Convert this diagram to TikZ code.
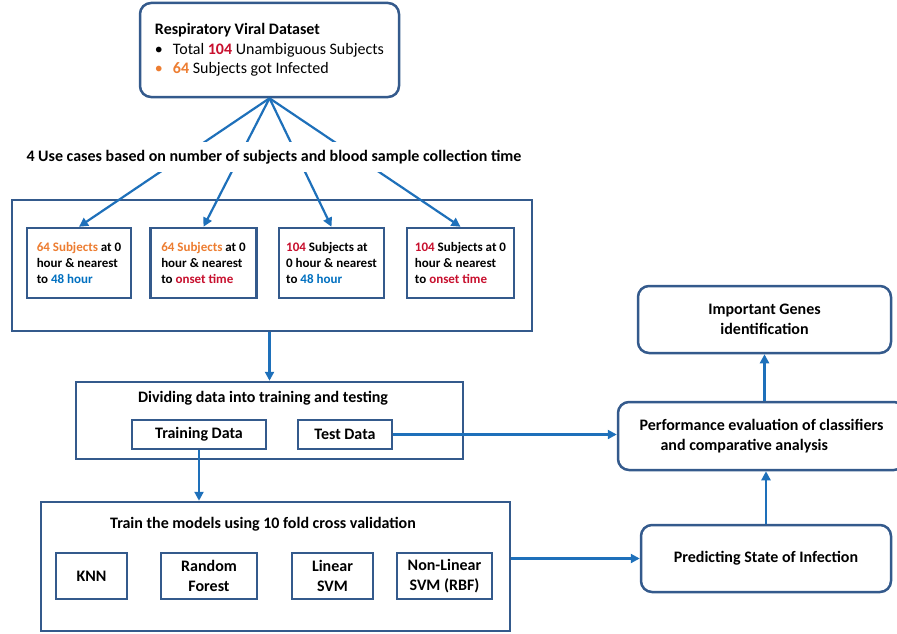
\documentclass[tikz,border=0pt]{standalone}
\usepackage{fontspec}
\setmainfont{Carlito}
\usepackage{tikz}
\usetikzlibrary{arrows.meta}
\definecolor{boxblue}{RGB}{52,90,140}
\definecolor{lineblue}{RGB}{30,112,186}
\definecolor{corange}{RGB}{237,125,49}
\definecolor{cred}{RGB}{200,16,46}
\definecolor{cblue}{RGB}{0,112,192}
\tikzset{
  box/.style={draw=boxblue,line width=2.5pt,fill=white,inner sep=0pt},
  rbox/.style={box,rounded corners=11pt},
  arr/.style={draw=lineblue,line width=2.2pt,-{Triangle[length=9pt,width=9pt]}},
  lbl/.style={font=\fontsize{16}{19.5}\selectfont\bfseries,align=center},
  small/.style={font=\fontsize{13}{16}\selectfont\bfseries,align=left}
}

\begin{document}
\begin{tikzpicture}[x=1pt,y=-1pt]
                      \useasboundingbox (0,0) rectangle (897,634);
                      % dataset and the four use cases
                      \node[rbox,minimum width=259pt,minimum height=94pt,align=left,font=\fontsize{16}{19.5}\selectfont] (data) at (269.5,50)
                        {\textbf{Respiratory Viral Dataset}\\\textbullet\hspace{10pt}Total \textbf{\color{cred}104} Unambiguous Subjects\\{\color{corange}\textbullet\hspace{10pt}\textbf{64}} Subjects got Infected};
                      \node[box,minimum width=520pt,minimum height=131pt] (cases) at (272,265.5) {};
                      \node[box,small,minimum width=104pt,minimum height=70pt] (c1) at (79,263) {{\color{corange}64 Subjects} at 0\\hour \& nearest\\to {\color{cblue}48 hour}};
                      \node[box,small,minimum width=106pt,minimum height=70pt] (c2) at (203.5,263) {{\color{corange}64 Subjects} at 0\\hour \& nearest\\to {\color{cred}onset time}};
                      \node[box,small,minimum width=105pt,minimum height=70pt] (c3) at (331.5,263) {{\color{cred}104} Subjects at\\0 hour \& nearest\\to {\color{cblue}48 hour}};
                      \node[box,small,minimum width=107pt,minimum height=70pt] (c4) at (460.5,263) {{\color{cred}104} Subjects at 0\\hour \& nearest\\to {\color{cred}onset time}};
                      \foreach \c in {c1,c2,c3,c4}
                        \draw[arr] (data.south) -- (\c.north);
                      \node[lbl,fill=white,minimum height=30pt] (uc) at (274,157) {4 Use cases based on number of subjects and blood sample collection time};
                      % splitting the data
                      \node[box,minimum width=387pt,minimum height=77pt] (split) at (269.5,420.5) {};
                      \node[lbl] (splitlbl) at (263,398) {Dividing data into training and testing};
                      \node[box,lbl,minimum width=134pt,minimum height=29pt] (tr) at (199,434.5) {Training Data};
                      \node[box,lbl,minimum width=94pt,minimum height=29pt] (te) at (345,434.5) {Test Data};
                      \draw[arr] (split.north |- cases.south) -- (split.north);
                      % models
                      \node[box,minimum width=469pt,minimum height=129pt] (train) at (275.5,566.5) {};
                      \node[lbl] (trainlbl) at (263,524) {Train the models using 10 fold cross validation};
                      \node[box,lbl,minimum width=71pt,minimum height=46pt] (knn) at (91.5,576) {KNN};
                      \node[box,lbl,minimum width=96pt,minimum height=46pt] (rf) at (209,576) {Random\\Forest};
                      \node[box,lbl,minimum width=81pt,minimum height=46pt] (lsvm) at (332.5,576) {Linear\\SVM};
                      \node[box,lbl,minimum width=95pt,minimum height=46pt] (nlsvm) at (444.5,576) {Non-Linear\\SVM (RBF)};
                      \draw[arr] (tr.south) -- (tr.south |- train.north);
                      % evaluation
                      \node[rbox,lbl,minimum width=253pt,minimum height=67pt] (genes) at (764.5,319.5) {Important Genes\\identification};
                      \node[rbox,lbl,align=left,minimum width=287pt,minimum height=68pt] (perf) at (761.5,436) {Performance evaluation of classifiers\\\hspace{21pt}and comparative analysis};
                      \node[rbox,lbl,minimum width=250pt,minimum height=67pt] (pred) at (766,558.5) {Predicting State of Infection};
                      \draw[arr] (te.east) -- (te.east -| perf.west);
                      \draw[arr] (pred.west -| train.east) -- (pred.west);
                      \draw[arr] (pred.north) -- (pred.north |- perf.south);
                      \draw[arr] (genes.south |- perf.north) -- (genes.south);
                  \end{tikzpicture}
\end{document}
